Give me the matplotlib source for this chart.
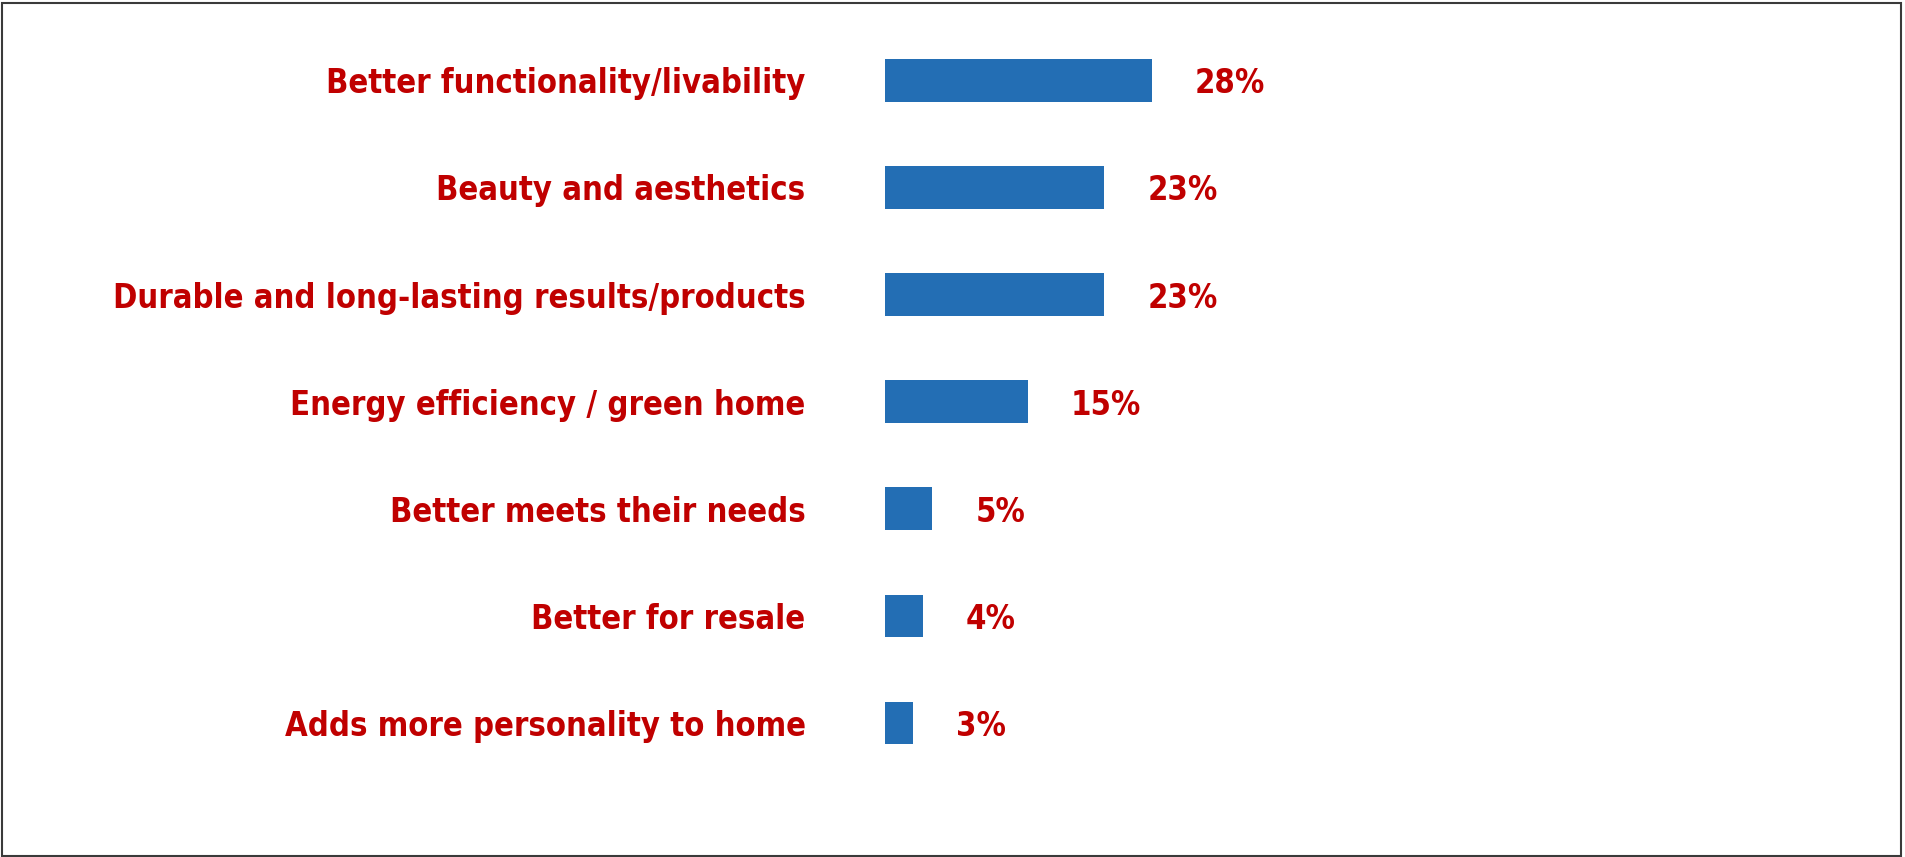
import matplotlib
matplotlib.use('Agg')
import matplotlib.pyplot as plt
from matplotlib.patches import Rectangle
from matplotlib import font_manager

# Motivações citadas, em ordem de exibição
categorias = [
    'Better functionality/livability',
    'Beauty and aesthetics',
    'Durable and long-lasting results/products',
    'Energy efficiency / green home',
    'Better meets their needs',
    'Better for resale',
    'Adds more personality to home',
]
valores = [28, 23, 23, 15, 5, 4, 3]

AZUL = '#236EB4'
VERMELHO = '#C00000'

# fonte condensada em negrito
fonte = font_manager.FontProperties(family='DejaVu Sans', stretch='condensed',
                                    weight='bold', size=23.5)


def main():
    fig = plt.figure(figsize=(19.05, 8.57), dpi=100)
    ax = fig.add_axes([0.4644, 0.0938, 0.5008, 0.875])

    pos = list(range(len(categorias)))
    ax.barh(pos, valores, height=0.4, color=AZUL)

    ax.set_xlim(0, 100)
    ax.set_ylim(len(categorias) - 0.5, -0.5)

    ax.set_yticks(pos, categorias)
    ax.tick_params(axis='y', length=0, pad=57, labelcolor=VERMELHO)
    for lbl in ax.get_yticklabels():
        lbl.set_fontproperties(fonte)
    ax.set_xticks([])

    for s in ax.spines.values():
        s.set_visible(False)

    # rótulos de porcentagem à direita de cada barra
    for i, v in enumerate(valores):
        ax.annotate(f'{v}%', xy=(v, i), xytext=(31, 0),
                    textcoords='offset points', va='center_baseline',
                    ha='left', fontproperties=fonte, color=VERMELHO)

    # moldura em volta da figura
    fig.patches.append(Rectangle((0.001, 0.001), 0.997, 0.996,
                                 transform=fig.transFigure, fill=False,
                                 edgecolor='#3a3a3a', linewidth=1.5))

    fig.savefig('out.png', dpi=100, facecolor='white')


if __name__ == '__main__':
    main()
